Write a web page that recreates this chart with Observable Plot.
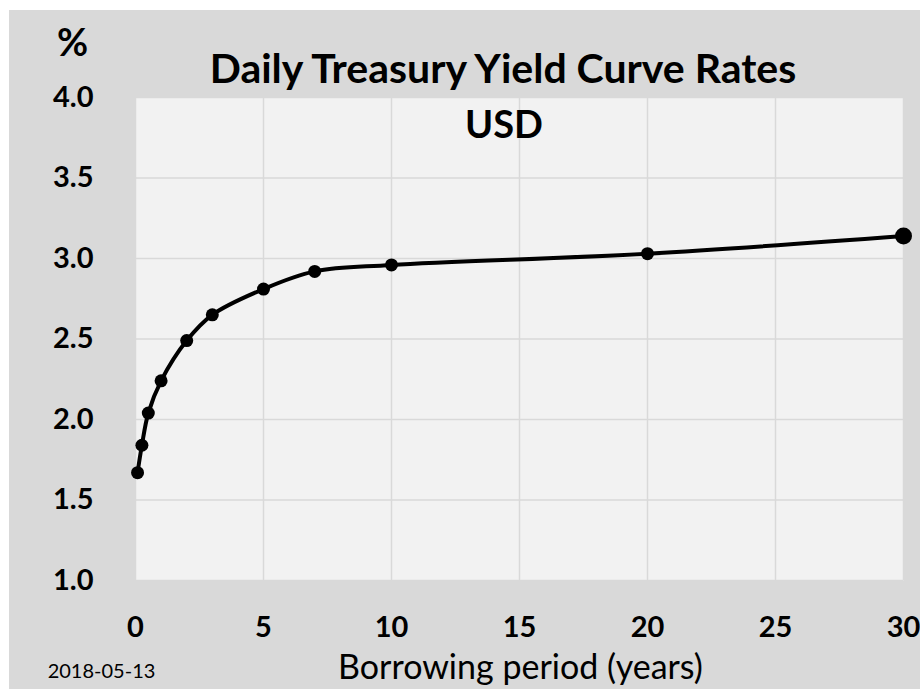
<!DOCTYPE html>
<html><head><meta charset="utf-8">
<script src="https://cdn.jsdelivr.net/npm/d3@7"></script>
<script src="https://cdn.jsdelivr.net/npm/@observablehq/plot@0.6"></script>
<style>
html,body{margin:0;padding:0;background:#fff;overflow:hidden;}
#chart svg{display:block;margin:10px 0 0 9px;}
</style></head><body><div id="chart"></div>
<script>
const maturities = [0.08, 0.25, 0.5, 1, 2, 3, 5, 7, 10, 20, 30];
const yields = [1.67, 1.84, 2.04, 2.24, 2.49, 2.65, 2.81, 2.92, 2.96, 3.03, 3.14];
const xTicks = [0, 5, 10, 15, 20, 25, 30];
const yTicks = [1.0, 1.5, 2.0, 2.5, 3.0, 3.5, 4.0];
const titleText = "Daily Treasury Yield Curve Rates";
const subtitleText = "USD";
const unitText = "%";
const xLabelText = "Borrowing period (years)";
const dateText = "2018-05-13";

const data = maturities.map((m, i) => ({m, y: yields[i]}));
const last = data.slice(-1);
const font = "Lato, 'Open Sans', sans-serif";

const chart = Plot.plot({
  width: 911, height: 679,
  marginLeft: 126, marginRight: 17, marginTop: 87, marginBottom: 109,
  style: {fontFamily: font, background: "#d9d9d9", color: "#000", overflow: "visible"},
  x: {domain: [0, 30]},
  y: {domain: [1, 4]},
  marks: [
    Plot.frame({fill: "#f2f2f2", stroke: null}),
    Plot.gridX(xTicks, {stroke: "#d9d9d9", strokeOpacity: 1, strokeWidth: 1.5}),
    Plot.gridY(yTicks, {stroke: "#d9d9d9", strokeOpacity: 1, strokeWidth: 1.5}),
    Plot.axisX(xTicks, {tickSize: 0, tickPadding: 36, fontSize: 29, fontWeight: "bold", label: null, tickFormat: d => String(d)}),
    Plot.axisY(yTicks, {tickSize: 0, tickPadding: 42, fontSize: 29, fontWeight: "bold", label: null, tickFormat: d => d.toFixed(1)}),
    Plot.line(data, {x: "m", y: "y", curve: "catmull-rom", stroke: "#000", strokeWidth: 4}),
    Plot.dot(data, {x: "m", y: "y", r: 6.5, fill: "#000", stroke: null}),
    Plot.dot(last, {x: "m", y: "y", r: 8.5, fill: "#000", stroke: null}),
    Plot.text([titleText], {text: d => d, frameAnchor: "top", dx: -16.5, dy: -28, lineAnchor: "middle", fontSize: 41, fontWeight: "bold", fill: "#000"}),
    Plot.text([subtitleText], {text: d => d, frameAnchor: "top", dx: -15.5, dy: 28.5, lineAnchor: "middle", fontSize: 38, fontWeight: "bold", fill: "#000"}),
    Plot.text([unitText], {text: d => d, frameAnchor: "top-left", dx: -63, dy: -54, textAnchor: "middle", lineAnchor: "middle", fontSize: 38, fontWeight: "bold", fill: "#000"}),
    Plot.text([xLabelText], {text: d => d, frameAnchor: "bottom", dx: 1, dy: 88, lineAnchor: "middle", fontSize: 34, fill: "#000"}),
    Plot.text([dateText], {text: d => d, frameAnchor: "bottom-left", dx: -34, dy: 91, textAnchor: "middle", lineAnchor: "middle", fontSize: 20, fill: "#000"})
  ]
});
document.getElementById("chart").append(chart);
</script></body></html>
